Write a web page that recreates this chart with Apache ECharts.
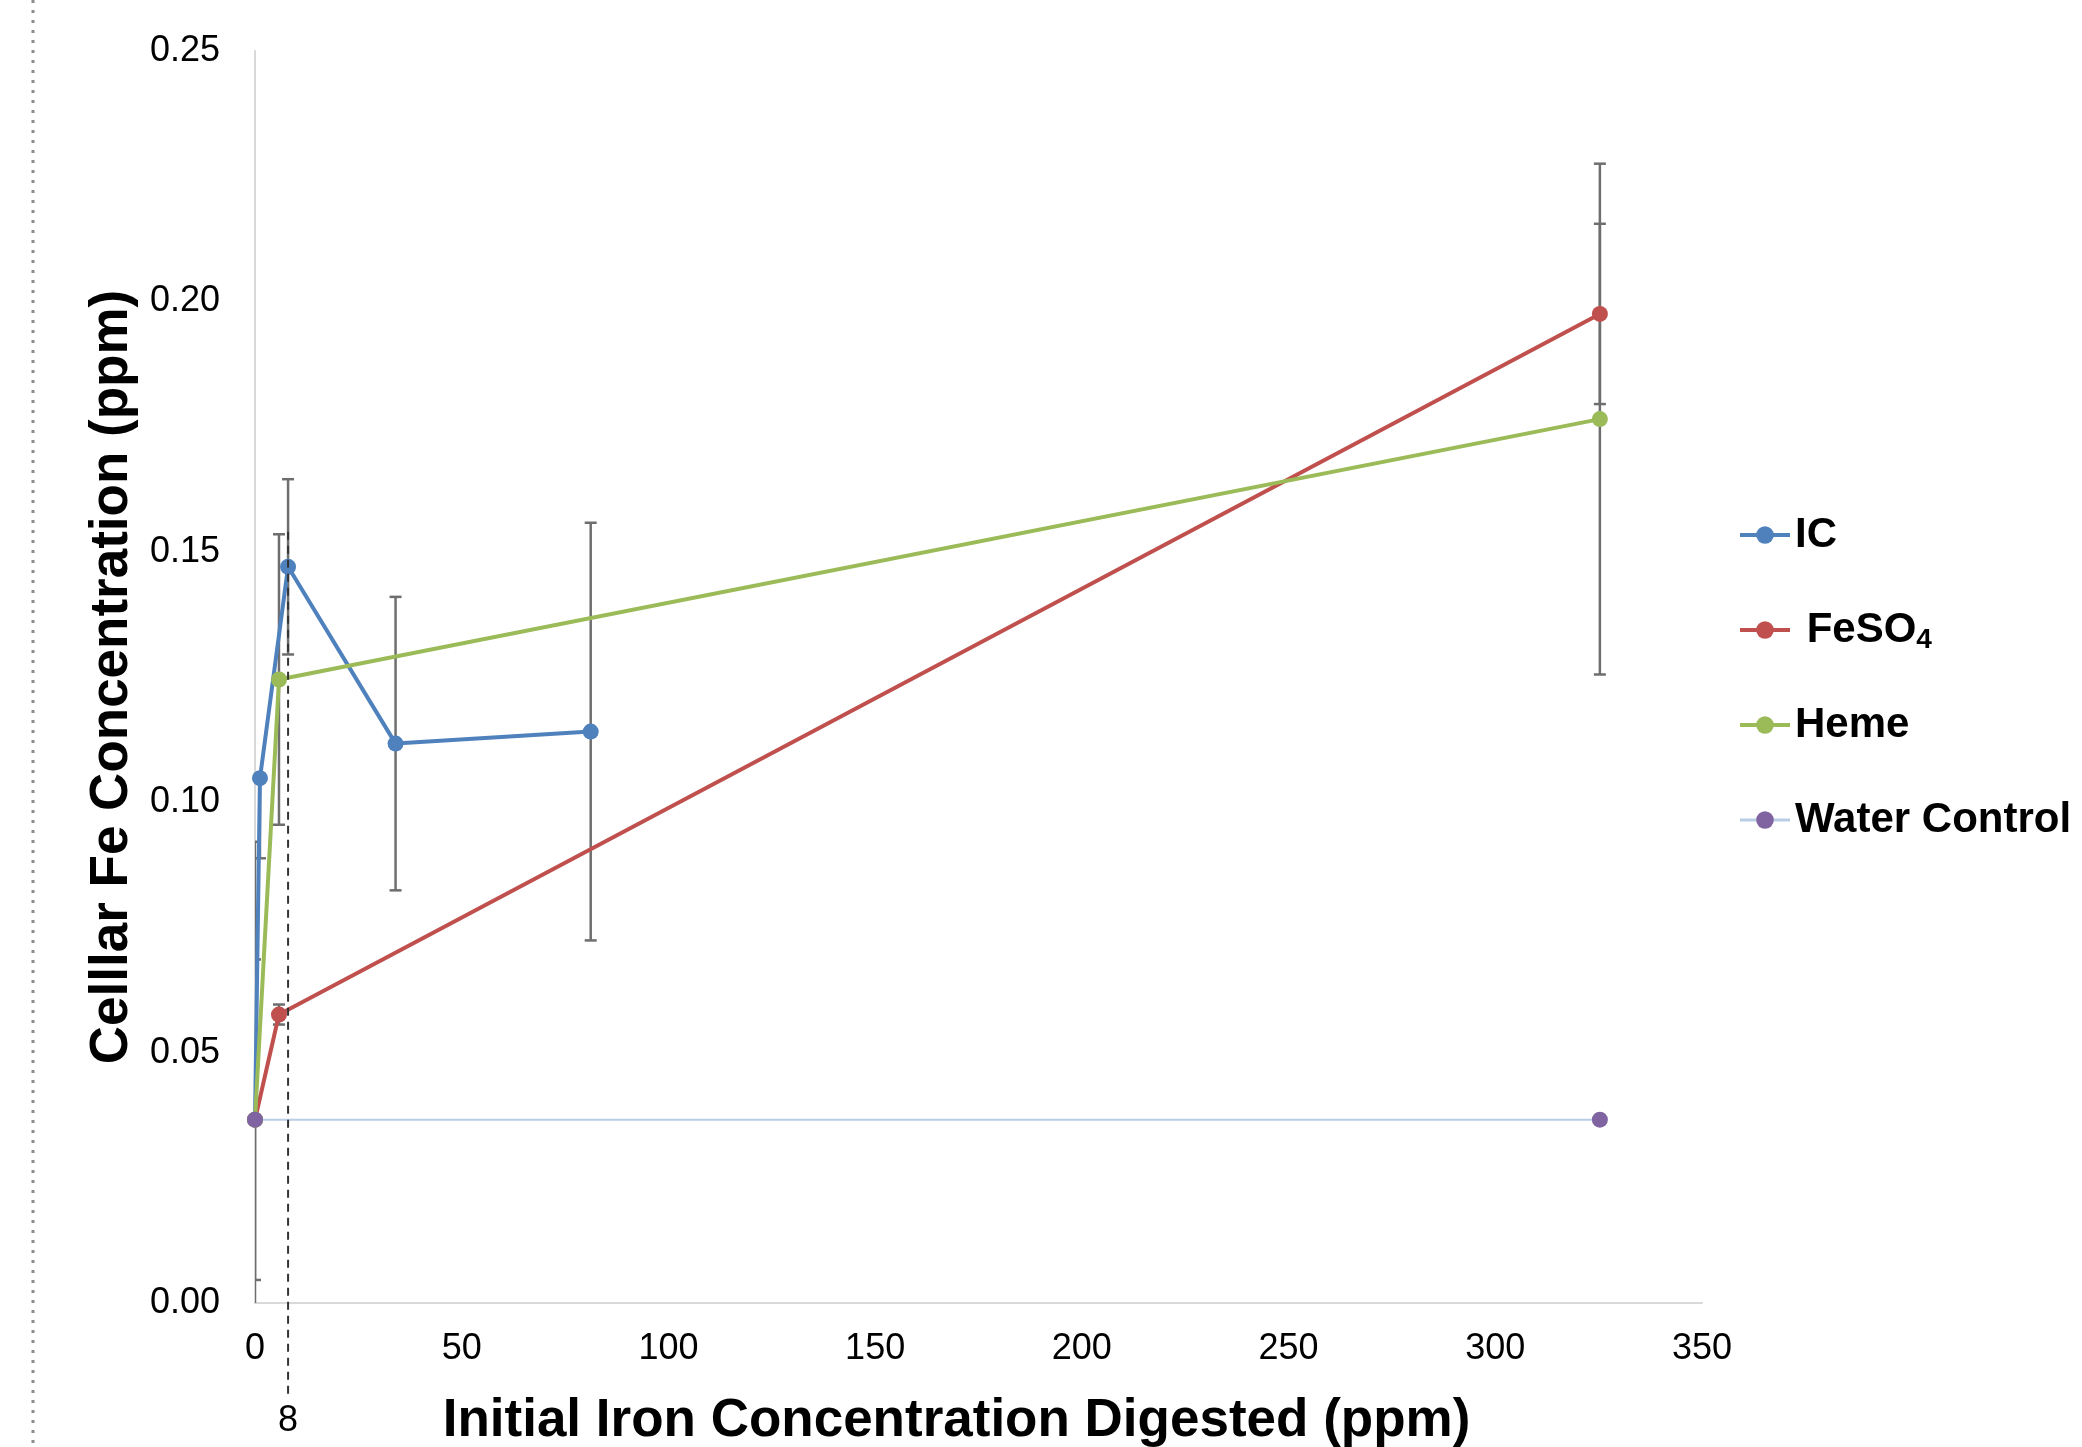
<!DOCTYPE html>
<html>
<head>
<meta charset="utf-8">
<script src="https://cdn.jsdelivr.net/npm/echarts@6/dist/echarts.min.js"></script>
<style>
  html, body { margin: 0; padding: 0; background: #fff; }
  #chart { width: 2082px; height: 1447px; }
</style>
</head>
<body>
<div id="chart"></div>
<script>
const FONT = 'Liberation Sans, Arial, sans-serif';

const seriesNames = ['IC', 'FeSO4', 'Heme', 'Water Control'];
const yTicks = [0, 0.05, 0.1, 0.15, 0.2, 0.25];
const xTicks = [0, 50, 100, 150, 200, 250, 300, 350];

// IC
const icX = [0, 1.2, 8, 34, 81.2];
const icY = [0.0366, 0.1048, 0.147, 0.1117, 0.1141];
const icErrUp = [0.0555, 0, 0.0175, 0.0293, 0.0417];
const icErrDown = [0.0555, 0.016, 0.0175, 0.0293, 0.0417];

// FeSO4
const feX = [0, 5.8, 325.3];
const feY = [0.0366, 0.0576, 0.1975];
const feErr = [0, 0.002, 0.018];

// Heme
const hemeX = [0, 5.8, 325.3];
const hemeY = [0.0366, 0.1245, 0.1765];
const hemeErr = [0, 0.029, 0.051];

// Water Control
const waterX = [0, 325.3];
const waterY = [0.0366, 0.0366];
const waterErr = [0.032, 0];

// marked digestion level
const markX = 8;
const markTop = 0.154;

const colors = {
  IC: '#4F81BD',
  FeSO4: '#C0504D',
  Heme: '#9BBB59',
  water: '#B9CDE5',
  waterPt: '#8064A2',
};

const pairs = (xs, ys) => xs.map((x, i) => [x, ys[i]]);
const bars = (xs, ys, up, down) =>
  xs
    .map((x, i) => [x, ys[i] - down[i], ys[i] + up[i], down[i] > 0 ? 1 : 0, up[i] > 0 ? 1 : 0])
    .filter(d => d[3] || d[4]);

const errData = []
  .concat(bars(icX, icY, icErrUp, icErrDown))
  .concat(bars(feX, feY, feErr, feErr))
  .concat(bars(hemeX, hemeY, hemeErr, hemeErr))
  .concat(bars(waterX, waterY, waterErr, waterErr));

const lineSeries = (name, data, color, ptColor, width) => ({
  name: name,
  type: 'line',
  data: data,
  z: 3,
  symbol: 'circle',
  symbolSize: 16,
  showSymbol: true,
  lineStyle: { color: color, width: width },
  itemStyle: { color: ptColor },
  emphasis: { disabled: true },
  animation: false,
});

const chart = echarts.init(document.getElementById('chart'));

const option = {
  animation: false,
  backgroundColor: '#fff',
  grid: { left: 255, right: 380, top: 51, bottom: 144, containLabel: false, outerBoundsMode: 'none' },
  xAxis: {
    type: 'value',
    min: 0,
    max: 350,
    interval: 50,
    name: 'Initial Iron Concentration Digested (ppm)',
    nameLocation: 'middle',
    nameGap: 92,
    nameTextStyle: {
      fontFamily: FONT, fontSize: 53, fontWeight: 'bold', color: '#000',
      padding: [0, 44, 0, 0],
    },
    axisLine: { show: true, lineStyle: { color: '#d9d9d9', width: 2 } },
    axisTick: { show: false },
    splitLine: { show: false },
    axisLabel: { fontFamily: FONT, fontSize: 36, color: '#000', margin: 28 },
  },
  yAxis: {
    type: 'value',
    min: 0,
    max: 0.25,
    interval: 0.05,
    name: 'Celllar Fe Concentration (ppm)',
    nameLocation: 'middle',
    nameGap: 111,
    nameTextStyle: { fontFamily: FONT, fontSize: 53, fontWeight: 'bold', color: '#000' },
    axisLine: { show: true, lineStyle: { color: '#d9d9d9', width: 2 } },
    axisTick: { show: false },
    splitLine: { show: false },
    axisLabel: {
      fontFamily: FONT, fontSize: 36, color: '#000', margin: 35,
      formatter: v => v.toFixed(2),
    },
  },
  legend: {
    orient: 'vertical',
    left: 1733,
    top: 506,
    itemWidth: 50,
    itemHeight: 22,
    itemGap: 47,
    data: seriesNames.map(n => ({
      name: n,
      lineStyle: { width: n === 'Water Control' ? 3 : 4 },
    })),
    textStyle: {
      fontFamily: FONT, fontSize: 42, fontWeight: 'bold', color: '#000', lineHeight: 48,
      rich: {
        a: { fontFamily: FONT, fontSize: 42, fontWeight: 'bold', color: '#000', lineHeight: 48 },
        s: {
          fontFamily: FONT, fontSize: 28, fontWeight: 'bold', color: '#000',
          lineHeight: 48, verticalAlign: 'bottom', padding: [18, 0, 0, 0],
        },
      },
    },
    formatter: name => (name === 'FeSO4' ? '{a| FeSO}{s|4}' : name),
  },
  graphic: [
    {
      type: 'line',
      shape: { x1: 33, y1: 0, x2: 33, y2: 1447 },
      style: { stroke: '#8c8c8c', lineWidth: 3, lineDash: [3, 7] },
      z: 10,
    },
  ],
  series: [
    {
      name: 'errors',
      type: 'custom',
      z: 2,
      clip: true,
      data: errData,
      renderItem: (params, api) => {
        const x = api.value(0);
        const lo = api.coord([x, api.value(1)]);
        const hi = api.coord([x, api.value(2)]);
        const style = { stroke: '#6e6e6e', lineWidth: 2.5 };
        const kids = [
          { type: 'line', shape: { x1: lo[0], y1: lo[1], x2: hi[0], y2: hi[1] }, style: style },
        ];
        if (api.value(3)) {
          kids.push({ type: 'line', shape: { x1: lo[0] - 6, y1: lo[1], x2: lo[0] + 6, y2: lo[1] }, style: style });
        }
        if (api.value(4)) {
          kids.push({ type: 'line', shape: { x1: hi[0] - 6, y1: hi[1], x2: hi[0] + 6, y2: hi[1] }, style: style });
        }
        return { type: 'group', children: kids };
      },
      silent: true,
    },
    lineSeries('IC', pairs(icX, icY), colors.IC, colors.IC, 4),
    lineSeries('FeSO4', pairs(feX, feY), colors.FeSO4, colors.FeSO4, 4),
    lineSeries('Heme', pairs(hemeX, hemeY), colors.Heme, colors.Heme, 4),
    lineSeries('Water Control', pairs(waterX, waterY), colors.water, colors.waterPt, 2),
    {
      name: 'mark',
      type: 'custom',
      z: 6,
      clip: false,
      data: [[markX, markTop]],
      renderItem: (params, api) => {
        const top = api.coord([api.value(0), api.value(1)]);
        const base = api.coord([api.value(0), 0]);
        return {
          type: 'group',
          children: [
            {
              type: 'line',
              shape: { x1: top[0], y1: top[1], x2: base[0], y2: base[1] + 95 },
              style: { stroke: '#333', lineWidth: 2, lineDash: [8, 6] },
            },
            {
              type: 'text',
              x: base[0],
              y: base[1] + 118,
              style: {
                text: String(api.value(0)),
                fontFamily: FONT, fontSize: 36, fill: '#000',
                align: 'center', verticalAlign: 'middle',
              },
            },
          ],
        };
      },
      silent: true,
    },
  ],
};

chart.setOption(option);
</script>
</body>
</html>
